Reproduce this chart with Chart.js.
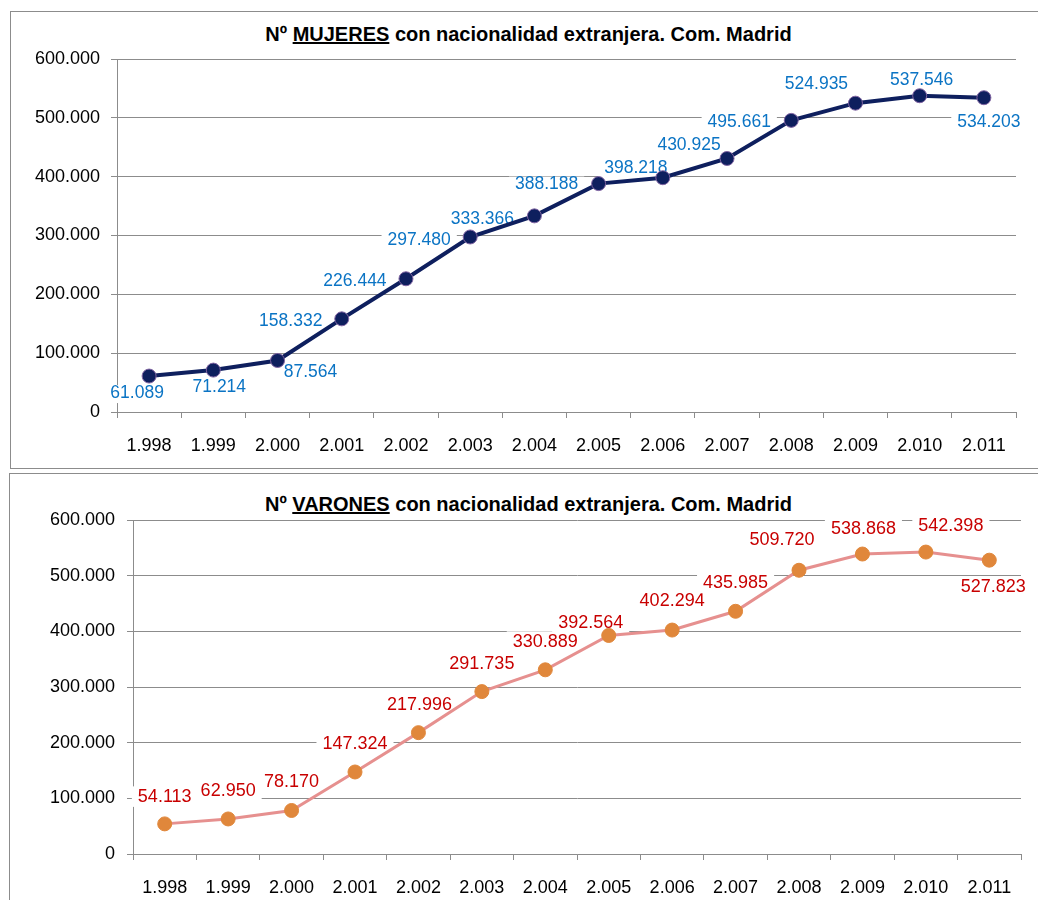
<!DOCTYPE html>
<html>
<head>
<meta charset="utf-8">
<script src="https://cdn.jsdelivr.net/npm/chart.js@4.4.1/dist/chart.umd.min.js"></script>
<style>
    body { margin: 0; background: #fff; width: 1038px; height: 900px; position: relative; overflow: hidden; }
    .frame { position: absolute; border: 1px solid #8c8c8c; }
    .title { position: absolute; left: 0; width: 1057px; text-align: center; font: bold 20px 'Liberation Sans', Arial, sans-serif; line-height: 20px; color: #000; white-space: nowrap; }
    .box { position: absolute; left: 0; width: 1038px; }
</style>
</head>
<body>
<div class="frame" style="left:10px; top:11px; width:1100px; height:456px;"></div>
<div class="frame" style="left:9px; top:473px; width:1100px; height:500px;"></div>
<div class="title" style="top:24px;">Nº <u>MUJERES</u> con nacionalidad extranjera. Com. Madrid</div>
<div class="title" style="top:494px;">Nº <u>VARONES</u> con nacionalidad extranjera. Com. Madrid</div>
<div class="box" style="top:0; height:470px;"><canvas id="mujeresChart"></canvas></div>
<div class="box" style="top:470px; height:430px;"><canvas id="varonesChart"></canvas></div>
<script>
const years = ['1.998', '1.999', '2.000', '2.001', '2.002', '2.003', '2.004', '2.005', '2.006', '2.007', '2.008', '2.009', '2.010', '2.011'];
const mujeres = [61089, 71214, 87564, 158332, 226444, 297480, 333366, 388188, 398218, 430925, 495661, 524935, 537546, 534203];
const varones = [54113, 62950, 78170, 147324, 217996, 291735, 330889, 392564, 402294, 435985, 509720, 538868, 542398, 527823];

// where each value label sits relative to its point (px)
const mujeresLabelOffsets = [[-12, 17], [6, 17], [33, 12], [-51, 2], [-51, 2], [-51, 3], [-52, 3], [-52, 1], [-27, -10], [-38, -13], [-52, 2], [-39, -19], [2, -16], [5, 24]];
const varonesLabelOffsets = [[0, -27], [0, -28], [0, -28], [0, -28], [1, -28], [0, -28], [0, -28], [-18, -12], [0, -29], [0, -28], [-17, -30], [1, -25], [25, -26], [4, 27]];

const numFont = "'Liberation Sans', Arial, sans-serif";

function dots(v) {
    return String(v).replace(/\B(?=(\d{3})+(?!\d))/g, '.');
}

// Excel-like data labels on a white box, drawn under the line
const valueLabels = {
    id: 'valueLabels',
    beforeDatasetsDraw(chart, args, opts) {
        const ctx = chart.ctx;
        const meta = chart.getDatasetMeta(0);
        const values = chart.data.datasets[0].data;
        ctx.save();
        ctx.font = opts.size + 'px ' + numFont;
        ctx.textAlign = 'center';
        ctx.textBaseline = 'middle';
        meta.data.forEach((pt, i) => {
            const text = dots(values[i]);
            const x = pt.x + opts.offsets[i][0];
            const y = pt.y + opts.offsets[i][1];
            const w = ctx.measureText(text).width;
            ctx.fillStyle = '#fff';
            ctx.fillRect(x - w / 2 - 6, y - opts.boxTop, w + 12, opts.boxTop + 10);
            ctx.fillStyle = opts.color;
            ctx.fillText(text, x, y);
        });
        ctx.restore();
    }
};

function makeChart(id, values, cfg) {
    return new Chart(document.getElementById(id), {
        type: 'line',
        data: {
            labels: years,
            datasets: [{
                data: values,
                borderColor: cfg.lineColor,
                borderWidth: cfg.lineWidth,
                pointBackgroundColor: cfg.pointColor,
                pointBorderColor: cfg.pointBorder,
                pointBorderWidth: 1,
                pointRadius: cfg.pointRadius,
                tension: 0,
                fill: false,
            }],
        },
        options: {
            responsive: true,
            maintainAspectRatio: false,
            animation: false,
            layout: {
                padding: { left: 0, top: cfg.top, right: cfg.right, bottom: 0 },
            },
            scales: {
                x: {
                    offset: true,
                    afterFit: scale => { scale.height = cfg.xHeight; },
                    grid: {
                        offset: true,
                        drawOnChartArea: false,
                        drawTicks: true,
                        tickLength: 6,
                        color: '#8c8c8c',
                    },
                    border: { color: '#8c8c8c' },
                    ticks: {
                        color: '#000',
                        padding: 17,
                        maxRotation: 0,
                        autoSkip: false,
                        font: { family: numFont, size: 18 },
                    },
                },
                y: {
                    min: 0,
                    max: 600000,
                    afterFit: scale => { scale.width = cfg.yWidth; },
                    grid: {
                        color: '#8c8c8c',
                        tickLength: 6,
                    },
                    border: { color: '#8c8c8c' },
                    ticks: {
                        stepSize: 100000,
                        color: '#000',
                        padding: cfg.yPad,
                        font: { family: numFont, size: 18 },
                        callback: v => dots(v),
                    },
                },
            },
            plugins: {
                legend: { display: false },
                title: { display: false },
                tooltip: { enabled: false },
                valueLabels: {
                    offsets: cfg.offsets,
                    color: cfg.labelColor,
                    size: cfg.labelSize,
                    boxTop: cfg.boxTop,
                },
            },
        },
        plugins: [valueLabels],
    });
}

makeChart('mujeresChart', mujeres, {
    lineColor: '#0e1f5e', lineWidth: 4, pointColor: '#0e1f5e', pointBorder: '#8064a2', pointRadius: 7,
    top: 59, right: 22, xHeight: 58, yWidth: 117, yPad: 11,
    offsets: mujeresLabelOffsets, labelColor: '#0b74c4', labelSize: 17.5, boxTop: 8,
});

makeChart('varonesChart', varones, {
    lineColor: '#e6908f', lineWidth: 3, pointColor: '#e0873b', pointBorder: '#e0873b', pointRadius: 7,
    top: 50, right: 17, xHeight: 46, yWidth: 133, yPad: 12,
    offsets: varonesLabelOffsets, labelColor: '#c80000', labelSize: 18, boxTop: 10.5,
});
</script>
</body>
</html>
